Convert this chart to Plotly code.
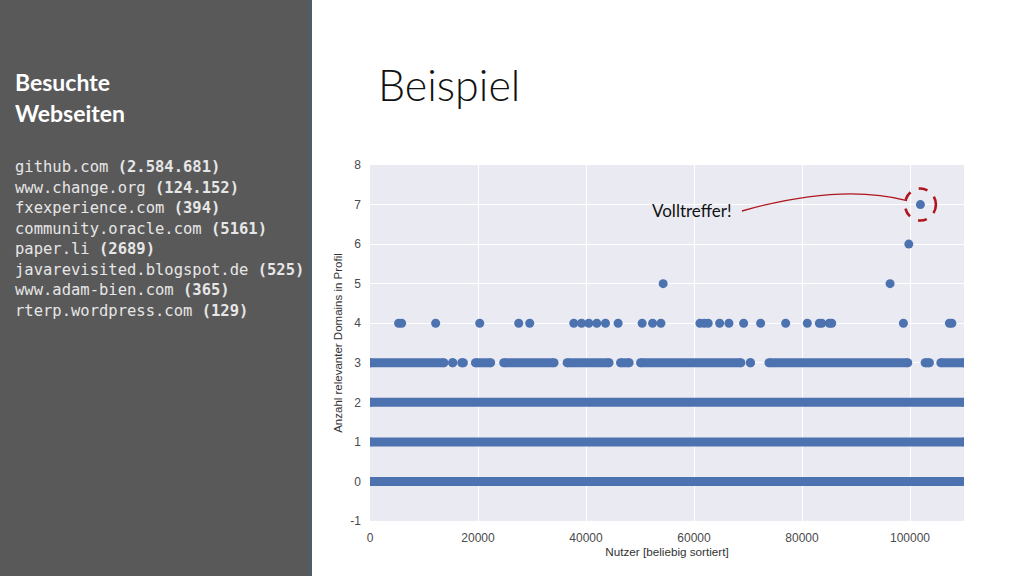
import plotly.graph_objects as go

# ---------------- data ----------------
x_max = 110000
# rows 0,1,2 are fully dense (continuous runs)
dense_rows = [0, 1, 2]
dense_run = (0, 110000)

# y = 3 : runs of densely packed users (start, end)
row3_runs = [
    (0, 13700), (15310, 15310), (16980, 17290), (19520, 22350),
    (24760, 34090), (36500, 44280), (46390, 47990), (50100, 68690),
    (70450, 70450), (73880, 99590), (102800, 103600), (105710, 110000),
]
# y = 4 : individual users
row4_x = [5300, 5860, 12160, 20320, 27540, 29580, 37740, 39170, 40520, 42000,
          43610, 45950, 50400, 52330, 53870, 61100, 61890, 62630, 64750, 66470,
          69190, 72340, 76980, 80980, 83210, 83650, 85060, 85500, 98780,
          107300, 107750]
row5_x = [54290, 96310]
row6_x = [99780]
row7_x = [101930]

x_ticks = [0, 20000, 40000, 60000, 80000, 100000]
y_ticks = [-1, 0, 1, 2, 3, 4, 5, 6, 7, 8]

domains = ["github.com", "www.change.org", "fxexperience.com", "community.oracle.com",
           "paper.li", "javarevisited.blogspot.de", "www.adam-bien.com",
           "rterp.wordpress.com"]
counts = ["2.584.681", "124.152", "394", "5161", "2689", "525", "365", "129"]

hit_label = "Volltreffer!"

# ---------------- figure ----------------
BLUE = "#4C72B0"
RED = "#B0141C"
MS = 9

fig = go.Figure()

def runs_trace(runs, yv):
    xs, ys = [], []
    for s, e in runs:
        xs += [s, e, None]
        ys += [yv, yv, None]
    return go.Scatter(x=xs, y=ys, mode="lines+markers",
                      line=dict(color=BLUE, width=MS),
                      marker=dict(color=BLUE, size=MS),
                      showlegend=False, hoverinfo="skip")

for yv in dense_rows:
    fig.add_trace(runs_trace([dense_run], yv))
fig.add_trace(runs_trace(row3_runs, 3))
for xs, yv in [(row4_x, 4), (row5_x, 5), (row6_x, 6), (row7_x, 7)]:
    fig.add_trace(go.Scatter(x=xs, y=[yv] * len(xs), mode="markers",
                             marker=dict(color=BLUE, size=MS),
                             showlegend=False, hoverinfo="skip"))

# plot area in px: left 370, right 964, top 165, bottom 521
L, R, T, B = 370, 964, 165, 521
W, H = 1024, 576
def px2paper(px, py):
    return (px - L) / (R - L), (B - py) / (B - T)

shapes = []
# left grey panel
x0p, y0p = px2paper(0, H)
x1p, y1p = px2paper(312, 0)
shapes.append(dict(type="rect", xref="paper", yref="paper", x0=x0p, x1=x1p,
                   y0=y0p, y1=y1p, fillcolor="#595959", line=dict(width=0),
                   layer="below"))
xs0, _ = px2paper(307, 0)
shapes.append(dict(type="rect", xref="paper", yref="paper", x0=xs0, x1=x1p,
                   y0=y0p, y1=y1p, fillcolor="#535b64", line=dict(width=0),
                   layer="below"))

# highlight circle and curved connector (data coords)
hx, hy = row7_x[0], 7
rx = 15.5 * x_max / (R - L)
ry = 16 * 9 / (B - T)
shapes.append(dict(type="circle", xref="x", yref="y",
                   x0=hx - rx, x1=hx + rx, y0=hy - ry, y1=hy + ry,
                   line=dict(color=RED, width=2.6, dash="dash")))
shapes.append(dict(type="path", xref="x", yref="y",
                   path="M 68880,6.837 Q 87040,7.545 99450,7.102",
                   line=dict(color=RED, width=1.3)))

annotations = []
# title
tx, ty = px2paper(376, 84)
annotations.append(dict(text="Beispiel", xref="paper", yref="paper", x=tx, y=ty,
                        xanchor="left", yanchor="middle", showarrow=False,
                        font=dict(family="Lato", size=43, color="#111111", weight=300)))
# panel heading
for i, line in enumerate(["Besuchte", "Webseiten"]):
    ax, ay = px2paper(13, 82 + 31 * i)
    annotations.append(dict(text="<b>" + line + "</b>", xref="paper", yref="paper",
                            x=ax, y=ay, xanchor="left", yanchor="middle",
                            showarrow=False,
                            font=dict(family="Lato", size=23, color="#ffffff")))
# list of domains
for i, (d, c) in enumerate(zip(domains, counts)):
    ax, ay = px2paper(13, 167 + 20.5 * i)
    annotations.append(dict(text=d + " <b>(" + c + ")</b>", xref="paper", yref="paper",
                            x=ax, y=ay, xanchor="left", yanchor="middle",
                            showarrow=False,
                            font=dict(family="DejaVu Sans Mono", size=15.5, color="#e6e6e6")))
# hit label
annotations.append(dict(text=hit_label, xref="x", yref="y", x=59610, y=6.86,
                        xanchor="center", yanchor="middle", showarrow=False,
                        font=dict(family="Lato", size=17, color="#111111")))

axis_font = dict(family="Liberation Sans", size=12, color="#4a4a4a")
fig.update_layout(
    width=W, height=H,
    margin=dict(l=L, r=W - R, t=T, b=H - B),
    paper_bgcolor="#ffffff", plot_bgcolor="#EAEAF2",
    shapes=shapes, annotations=annotations,
    xaxis=dict(range=[0, x_max], tickvals=x_ticks, ticktext=[str(v) for v in x_ticks],
               showgrid=True, gridcolor="#ffffff", gridwidth=1.3, zeroline=False,
               showline=False, ticks="", tickfont=axis_font, ticklabelstandoff=8,
               title=dict(text="Nutzer [beliebig sortiert]", font=dict(family="Liberation Sans", size=11.7, color="#333333"), standoff=3)),
    yaxis=dict(range=[-1, 8], tickvals=y_ticks, ticktext=[str(v) for v in y_ticks],
               showgrid=True, gridcolor="#ffffff", gridwidth=1.3, zeroline=False,
               showline=False, ticks="", tickfont=axis_font, ticklabelstandoff=8,
               title=dict(text="Anzahl relevanter Domains in Profil", font=dict(family="Liberation Sans", size=11.5, color="#333333"), standoff=5)),
)

fig.write_html("out.html", config={"displayModeBar": False},
               post_script="document.body.style.margin='0';")
